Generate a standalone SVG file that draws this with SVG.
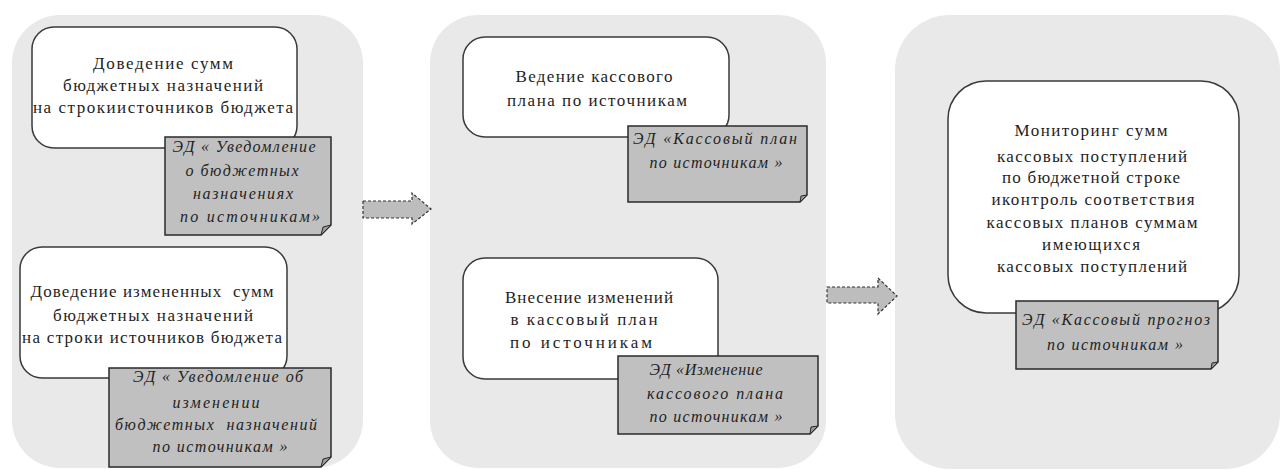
<svg xmlns="http://www.w3.org/2000/svg" width="1280" height="470" viewBox="0 0 1280 470">
<style>
.panel{fill:#e9e9e9;stroke:none}
.box{fill:#fff;stroke:#3a3a3a;stroke-width:1.5}
.note{fill:#c0c0c0;stroke:#2a2a2a;stroke-width:1.5}
.fold{fill:#9a9a9a;stroke:#2a2a2a;stroke-width:1}
.t{font-family:"Liberation Serif","DejaVu Serif",serif;font-size:17px;fill:#1e1e1e;text-anchor:middle}
.i{font-style:italic;font-size:16px}
.arrow{fill:#bdbdbd;stroke:#333;stroke-width:1.2;stroke-dasharray:3 2}
</style>
<g id="panels">
<rect class="panel" x="12" y="15" width="351" height="453" rx="48"/>
<rect class="panel" x="430" y="15" width="396" height="453" rx="48"/>
<rect class="panel" x="895" y="15" width="385" height="454" rx="55"/>
</g>
<g id="connectors">
<path class="arrow" d="M363,201 H412 V193 L431,209 L412,224 V218 H363 Z"/>
<path class="arrow" d="M827,287 H878 V278 L897,296 L878,314 V303 H827 Z"/>
</g>
<g id="node1">
<rect class="box" x="32" y="27" width="265" height="121" rx="22"/>
<text class="t" x="163" y="69" textLength="140" lengthAdjust="spacing">Доведение сумм</text>
<text class="t" x="163" y="91" textLength="200" lengthAdjust="spacing">бюджетных назначений</text>
<text class="t" x="163" y="113" textLength="260" lengthAdjust="spacing">на строкиисточников бюджета</text>
</g>
<g id="doc1">
<path class="note" d="M165,137 H331 V225 L321,235 H165 Z"/>
<path class="fold" d="M331,225 L321,235 L323,227 Z"/>
<text class="t i" x="244" y="152" textLength="143" lengthAdjust="spacing">ЭД « Уведомление</text>
<text class="t i" x="242" y="176" textLength="113" lengthAdjust="spacing">о бюджетных</text>
<text class="t i" x="243" y="199" textLength="100" lengthAdjust="spacing">назначениях</text>
<text class="t i" x="250" y="222" textLength="140" lengthAdjust="spacing">по источникам»</text>
</g>
<g id="node2">
<rect class="box" x="20" y="247" width="267" height="131" rx="22"/>
<text class="t" x="152" y="297" textLength="243" lengthAdjust="spacing" xml:space="preserve">Доведение измененных  сумм</text>
<text class="t" x="153" y="321" textLength="200" lengthAdjust="spacing">бюджетных назначений</text>
<text class="t" x="152" y="343" textLength="260" lengthAdjust="spacing">на строки источников бюджета</text>
</g>
<g id="doc2">
<path class="note" d="M109,368 H331 V457 L321,467 H109 Z"/>
<path class="fold" d="M331,457 L321,467 L323,459 Z"/>
<text class="t i" x="218" y="382" textLength="170" lengthAdjust="spacing">ЭД « Уведомление об</text>
<text class="t i" x="216" y="408" textLength="87" lengthAdjust="spacing">изменении</text>
<text class="t i" x="216" y="430" textLength="202" lengthAdjust="spacing" xml:space="preserve">бюджетных  назначений</text>
<text class="t i" x="220" y="452" textLength="135" lengthAdjust="spacing">по источникам »</text>
</g>
<g id="node3">
<rect class="box" x="463" y="37" width="266" height="100" rx="22"/>
<text class="t" x="594" y="82" textLength="157" lengthAdjust="spacing">Ведение кассового</text>
<text class="t" x="597" y="106" textLength="180" lengthAdjust="spacing">плана по источникам</text>
</g>
<g id="doc3">
<path class="note" d="M628,126 H807 V195 L800,202 H628 Z"/>
<path class="fold" d="M807,195 L800,202 L801,196 Z"/>
<text class="t i" x="715" y="144" textLength="164" lengthAdjust="spacing">ЭД «Кассовый план</text>
<text class="t i" x="716" y="168" textLength="133" lengthAdjust="spacing">по источникам »</text>
</g>
<g id="node4">
<rect class="box" x="463" y="258" width="255" height="121" rx="22"/>
<text class="t" x="589" y="303" textLength="168" lengthAdjust="spacing">Внесение изменений</text>
<text class="t" x="584" y="325" textLength="147" lengthAdjust="spacing">в кассовый план</text>
<text class="t" x="581" y="348" textLength="142" lengthAdjust="spacing">по источникам</text>
</g>
<g id="doc4">
<path class="note" d="M618,356 H818 V426 L810,434 H618 Z"/>
<path class="fold" d="M818,426 L810,434 L811,427 Z"/>
<text class="t i" x="706" y="375" textLength="113" lengthAdjust="spacing">ЭД «Изменение</text>
<text class="t i" x="715" y="399" textLength="136" lengthAdjust="spacing">кассового плана</text>
<text class="t i" x="716" y="422" textLength="133" lengthAdjust="spacing">по источникам »</text>
</g>
<g id="node5">
<rect class="box" x="948" y="81" width="291" height="232" rx="38"/>
<text class="t" x="1091" y="136" textLength="153" lengthAdjust="spacing">Мониторинг сумм</text>
<text class="t" x="1092" y="162" textLength="190" lengthAdjust="spacing">кассовых поступлений</text>
<text class="t" x="1091" y="183" textLength="178" lengthAdjust="spacing">по бюджетной строке</text>
<text class="t" x="1093" y="205" textLength="203" lengthAdjust="spacing">иконтроль соответствия</text>
<text class="t" x="1092" y="228" textLength="211" lengthAdjust="spacing">кассовых планов суммам</text>
<text class="t" x="1091" y="250" textLength="98" lengthAdjust="spacing">имеющихся</text>
<text class="t" x="1092" y="272" textLength="190" lengthAdjust="spacing">кассовых поступлений</text>
</g>
<g id="doc5">
<path class="note" d="M1016,301 H1218 V362 L1211,369 H1016 Z"/>
<path class="fold" d="M1218,362 L1211,369 L1212,363 Z"/>
<text class="t i" x="1116" y="325" textLength="188" lengthAdjust="spacing">ЭД «Кассовый прогноз</text>
<text class="t i" x="1115" y="350" textLength="136" lengthAdjust="spacing">по источникам »</text>
</g>
</svg>
